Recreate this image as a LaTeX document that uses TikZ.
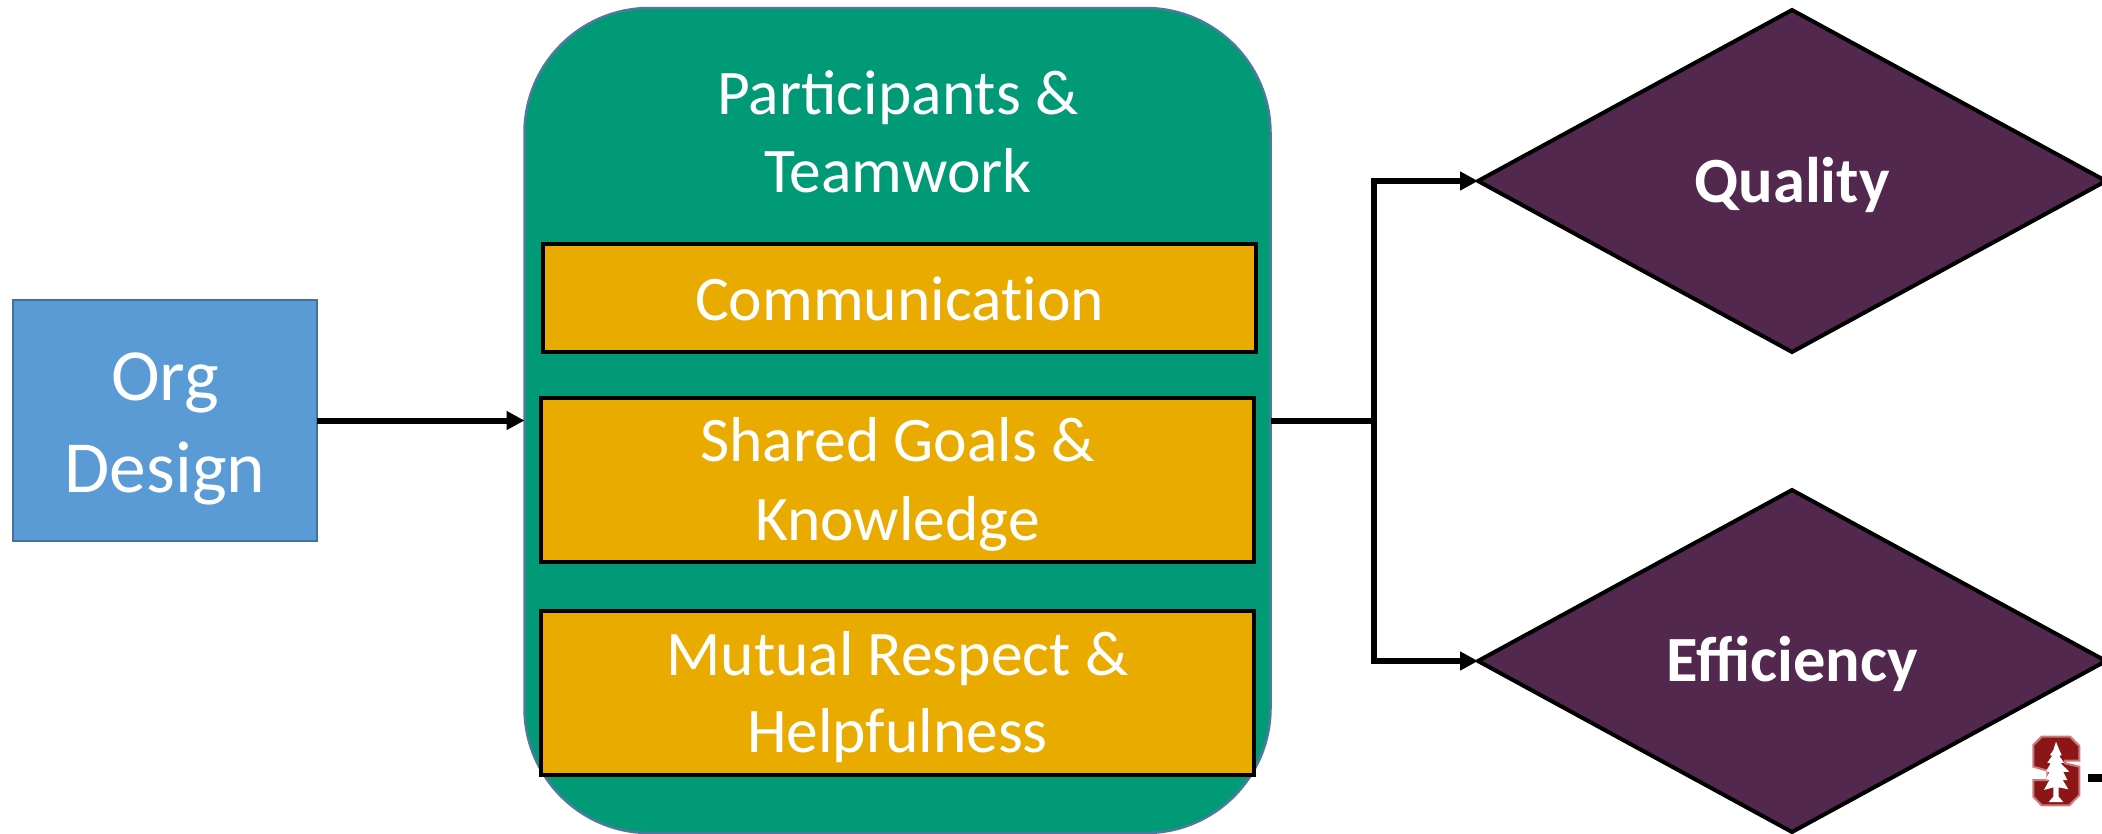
\documentclass[tikz,border=0pt]{standalone}
\usepackage{fontspec}
\setmainfont{Carlito}
\usetikzlibrary{shapes.geometric,arrows.meta,calc}
\definecolor{orgblue}{HTML}{5B9BD5}
\definecolor{orgedge}{HTML}{41719C}
\definecolor{teamgreen}{HTML}{009B76}
\definecolor{teamedge}{HTML}{4A7A9C}
\definecolor{boxgold}{HTML}{EAAB00}
\definecolor{plum}{HTML}{53284F}
\definecolor{logored}{HTML}{8C1515}
\definecolor{logoedge}{HTML}{C97A7E}
\newcommand{\nudgetext}[2]{\raisebox{-#1pt}[\height][\depth]{#2}}
\tikzset{
  x=1pt,y=-1pt,
  goldbox/.style={draw=black,line width=3.5pt,fill=boxgold,text=white,align=center,inner sep=0pt,outer sep=0pt,font=\fontsize{63.5}{78}\selectfont},
  outcome/.style={diamond,draw=black,line width=4pt,fill=plum,text=white,aspect=1.83,inner sep=0pt,outer sep=0pt,minimum width=628pt,minimum height=342pt,font=\fontsize{64.5}{78}\selectfont\bfseries},
  link/.style={draw=black,line width=6pt},
  linktip/.style={link,-{Triangle[length=18pt,width=18pt]}}
}
\begin{document}
\begin{tikzpicture}
\useasboundingbox (0,0) rectangle (2102,833);
\fill[white] (0,0) rectangle (2102,833);
\node[draw=orgedge,line width=2.5pt,fill=orgblue,text=white,align=center,inner sep=0pt,outer sep=0pt,minimum width=304pt,minimum height=241pt,font=\fontsize{73.5}{92}\selectfont] (org) at (165,420.5) {\nudgetext{8}{Org}\\\nudgetext{8}{Design}};
\node[draw=teamedge,line width=2.5pt,fill=teamgreen,rounded corners=125pt,inner sep=0pt,outer sep=0pt,minimum width=746pt,minimum height=825pt] (team) at (897.5,420.5) {};
\node[text=white,align=center,inner sep=0pt,font=\fontsize{63.5}{78}\selectfont] (teamtitle) at (898,132) {Participants \&\\Teamwork};
\node[goldbox,minimum width=713pt,minimum height=108pt] (comm) at (899.5,298) {\addfontfeature{Ligatures=NoCommon}\nudgetext{1}{Communication}};
\node[goldbox,minimum width=713pt,minimum height=164pt] (goals) at (897.5,480) {\nudgetext{4}{Shared Goals \&}\\\nudgetext{5}{Knowledge}};
\node[goldbox,minimum width=713pt,minimum height=164pt] (respect) at (897.5,693) {\nudgetext{5}{Mutual Respect \&}\\\nudgetext{4}{Helpfulness}};
\node[outcome] (quality) at (1792,181) {\nudgetext{4}{Quality}};
\node[outcome] (efficiency) at (1792,661) {\nudgetext{3}{Efficiency}};
\coordinate (split) at (1374,420.5);
\draw[linktip] (org.east) -- (team.west);
\draw[link] (team.east) -- (split);
\draw[linktip] (split) |- (quality.west);
\draw[linktip] (split) |- (efficiency.west);
% Stanford logo
\begin{scope}[shift={(1950,700)},x=0.3333pt,y=-0.3333pt]
\path[fill=logored,draw=logoedge,line width=2pt,line join=miter]
 (275,110)--(360,110)--(388,138)--(388,182)--(345,182)--(345,190)--(388,200)--(388,285)--(358,316)--(275,316)--(250,290)--(250,240)--(292,240)--(292,212)--(250,200)--(250,135)--cycle;
\path[fill=white]
 (318,125)--(328,150)--(335,165)--(328,168)--(342,188)--(332,190)--(358,215)--(340,216)--(352,240)--(338,240)--(355,268)--(326,262)--(326,290)--(340,306)--(296,306)--(310,290)--(310,262)--(282,270)--(298,240)--(288,238)--(298,216)--(288,214)--(302,190)--(292,188)--(306,168)--(300,165)--(310,150)--cycle;
\end{scope}
\fill[black] (2088,774) rectangle (2102,782);
\end{tikzpicture}
\end{document}
